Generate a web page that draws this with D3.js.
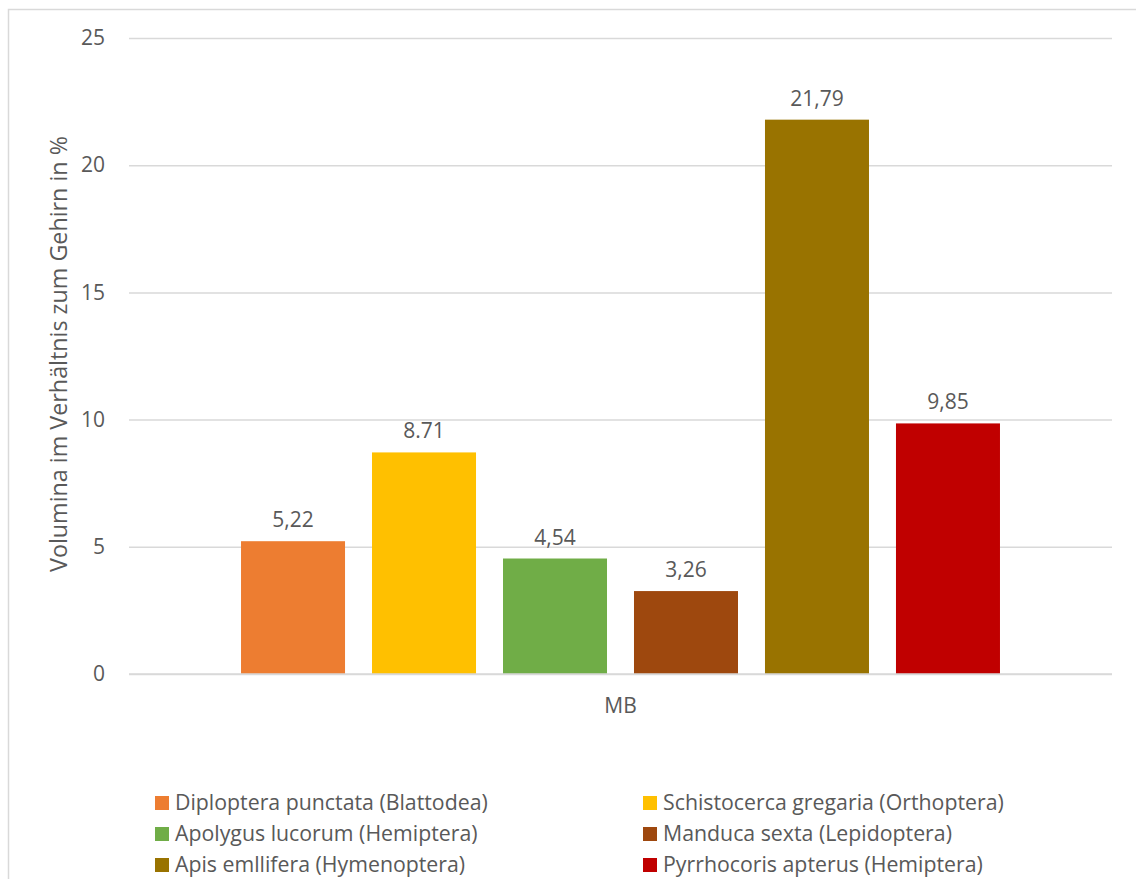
<!DOCTYPE html>
<html>
<head>
<meta charset="utf-8">
<script src="https://cdn.jsdelivr.net/npm/d3@7"></script>
<style>
  html, body { margin: 0; padding: 0; background: #fff; }
  svg { display: block; }
  text { font-family: "Open Sans", sans-serif; fill: #595959; }
</style>
</head>
<body>
<svg id="chart" width="1136" height="879"></svg>
<script>
const category = "MB";
const species = [
  "Diploptera punctata (Blattodea)",
  "Schistocerca gregaria (Orthoptera)",
  "Apolygus lucorum (Hemiptera)",
  "Manduca sexta (Lepidoptera)",
  "Apis emllifera (Hymenoptera)",
  "Pyrrhocoris apterus (Hemiptera)"
];
const values = [5.22, 8.71, 4.54, 3.26, 21.79, 9.85];
const valueLabels = ["5,22", "8.71", "4,54", "3,26", "21,79", "9,85"];
const colors = ["#ED7D31", "#FFC000", "#70AD47", "#9E480E", "#997300", "#C00000"];
const yTicks = [0, 5, 10, 15, 20, 25];
const yTitle = "Volumina im Verhältnis zum Gehirn in %";

const svg = d3.select("#chart");

// outer chart border
svg.append("rect")
  .attr("x", 8.5).attr("y", 9.5)
  .attr("width", 1140).attr("height", 880)
  .attr("fill", "#fff").attr("stroke", "#D9D9D9").attr("stroke-width", 1.5);

const plot = { left: 129, right: 1112, top: 38, bottom: 674 };

const y = d3.scaleLinear().domain([0, 25]).range([plot.bottom, plot.top]);
const x0 = d3.scaleBand().domain([category]).range([plot.left, plot.right]).paddingInner(0).paddingOuter(0.1476);
const x1 = d3.scaleBand().domain(species).range([0, x0.bandwidth()]).paddingInner(0.206).paddingOuter(0);

// gridlines
const yAxis = d3.axisLeft(y).tickValues(yTicks).tickSize(-(plot.right - plot.left)).tickPadding(24).tickFormat(d3.format("d"));
const gAxis = svg.append("g").attr("transform", `translate(${plot.left},0)`).call(yAxis);
gAxis.select(".domain").remove();
gAxis.selectAll(".tick line").attr("stroke", "#D9D9D9").attr("stroke-width", 1.5);
gAxis.selectAll(".tick text").attr("font-size", 21).attr("fill", "#595959").attr("font-family", "Open Sans, sans-serif");

// bars
const g = svg.append("g").attr("transform", `translate(${x0(category)},0)`);
g.selectAll("rect.bar").data(species).join("rect")
  .attr("class", "bar")
  .attr("x", d => x1(d))
  .attr("y", (d, i) => y(values[i]))
  .attr("width", x1.bandwidth())
  .attr("height", (d, i) => y(0) - y(values[i]))
  .attr("fill", (d, i) => colors[i]);

g.selectAll("text.lbl").data(species).join("text")
  .attr("class", "lbl")
  .attr("x", d => x1(d) + x1.bandwidth() / 2)
  .attr("y", (d, i) => y(values[i]) - 14)
  .attr("text-anchor", "middle")
  .attr("font-size", 21)
  .text((d, i) => valueLabels[i]);

// x axis baseline
svg.append("line")
  .attr("x1", plot.left).attr("x2", plot.right)
  .attr("y1", y(0)).attr("y2", y(0))
  .attr("stroke", "#D9D9D9").attr("stroke-width", 1.5);

// category label
svg.append("text")
  .attr("x", x0(category) + x0.bandwidth() / 2)
  .attr("y", 713)
  .attr("text-anchor", "middle")
  .attr("font-size", 21)
  .text(category);

// y title
svg.append("text")
  .attr("transform", `translate(67,${(plot.top + plot.bottom) / 2 - 2}) rotate(-90)`)
  .attr("text-anchor", "middle")
  .attr("font-size", 23.3)
  .text(yTitle);

// legend
const legendCols = [155, 643];
const legendRows = [803, 834, 865];
const lg = svg.append("g");
species.forEach((s, i) => {
  const cx = legendCols[i % 2];
  const cy = legendRows[Math.floor(i / 2)];
  lg.append("rect").attr("x", cx).attr("y", cy - 7).attr("width", 14).attr("height", 14).attr("fill", colors[i]);
  lg.append("text").attr("x", cx + 20).attr("y", cy).attr("dy", "0.35em").attr("font-size", 21.3).text(s);
});
</script>
</body>
</html>
